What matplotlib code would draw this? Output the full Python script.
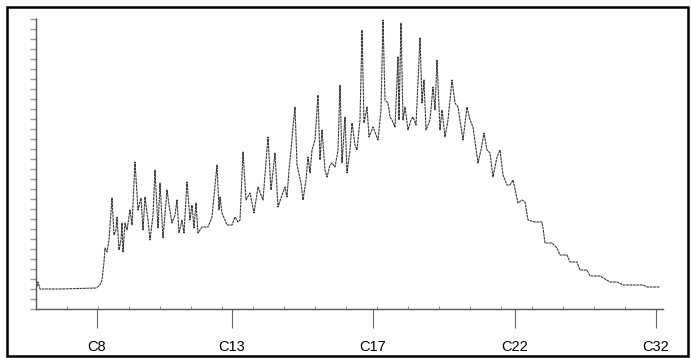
"""Recreate the scanned GC chromatogram (n-alkane range C8 to C32)."""

import matplotlib.pyplot as plt
from matplotlib.patches import Rectangle
from matplotlib.ticker import MultipleLocator

plt.rcParams["font.family"] = ["Liberation Sans", "DejaVu Sans"]

# retention time (min) and detector response (arbitrary units)
time_min = [
    0.0, 0.2, 0.4, 2.4, 6.0, 6.4, 6.6, 6.8, 6.9, 7.1, 7.3, 7.6, 7.8, 8.0, 8.1,
    8.3, 8.5, 8.6, 8.7, 8.9, 9.1, 9.4, 9.6, 9.9, 10.2, 10.5, 10.7, 10.9, 11.2,
    11.4, 11.7, 11.9, 12.2, 12.4, 12.7, 13.1, 13.3, 13.6, 13.9, 14.1, 14.3,
    14.6, 14.8, 15.1, 15.4, 15.6, 15.8, 16.0, 16.2, 16.6, 17.2, 17.6, 18.1,
    18.3, 18.4, 18.6, 19.1, 19.6, 19.9, 20.2, 20.4, 20.7, 21.0, 21.4, 21.8,
    22.2, 22.7, 23.2, 23.5, 23.9, 24.2, 24.6, 24.9, 25.1, 25.3, 25.5, 25.7,
    25.9, 26.1, 26.5, 26.7, 27.0, 27.2, 27.4, 27.6, 27.9, 28.2, 28.4, 28.6,
    28.9, 29.1, 29.4, 29.6, 29.9, 30.2, 30.4, 30.6, 30.9, 31.1, 31.4, 31.6,
    31.9, 32.1, 32.4, 32.6, 32.8, 33.1, 33.3, 33.7, 34.2, 34.5, 34.7, 34.9,
    35.2, 35.4, 35.6, 35.9, 36.2, 36.3, 36.5, 36.7, 36.9, 37.2, 37.5, 37.7,
    38.0, 38.4, 38.6, 38.8, 39.0, 39.4, 39.7, 39.9, 40.1, 40.4, 40.6, 40.9,
    41.2, 41.6, 41.9, 42.2, 42.7, 43.1, 43.4, 43.7, 44.2, 44.5, 44.8, 45.1,
    45.4, 45.7, 46.1, 46.4, 46.7, 47.1, 47.4, 47.7, 48.2, 48.6, 48.9, 49.2,
    49.9, 50.6, 50.7, 50.9, 51.6, 52.1, 52.4, 53.1, 53.4, 54.1, 54.4, 55.1,
    55.4, 56.4, 57.4, 58.1, 58.7, 60.7, 61.1, 62.4,
]
response = [
    19, 27, 20, 20, 21, 24, 29, 47, 61, 57, 69, 111, 74, 79, 92,
    59, 69, 86, 57, 86, 79, 99, 84, 147, 99, 111, 79, 112, 89,
    69, 94, 139, 81, 126, 71, 119, 104, 86, 94, 109, 76,
    89, 76, 127, 89, 104, 81, 106, 76, 82, 82, 92, 144,
    99, 112, 96, 84, 84, 92, 87, 89, 157, 109, 116, 96,
    122, 109, 172, 119, 156, 102, 114, 122, 112, 139, 159, 182,
    202, 144, 126, 109, 129, 152, 136, 159, 169, 214, 149, 179,
    139, 132, 144, 146, 142, 159, 224, 146, 192, 136, 159, 186,
    164, 159, 189, 279, 186, 202, 172, 182, 169, 199, 289, 209,
    206, 192, 189, 182, 252, 189, 286, 189, 202, 179, 189, 192,
    184, 271, 206, 229, 179, 189, 222, 199, 249, 179, 199, 172,
    189, 229, 206, 202, 169, 202, 189, 182, 146, 159, 176, 159,
    156, 132, 152, 159, 134, 124, 124, 129, 106, 109, 107, 89,
    87, 87, 81, 66, 66, 61, 54, 54, 47, 47, 39, 39,
    33, 33, 27, 27, 24, 24, 22, 22,
]

tick_pos = [6.1, 19.6, 33.7, 47.9, 62.0]
tick_labels = ["C8", "C13", "C17", "C22", "C32"]

fig = plt.figure(figsize=(6.91, 3.58), dpi=100)
ax = fig.add_axes([36 / 691, 1 - 309 / 358, 627 / 691, 291 / 358])

ax.plot(time_min, response, color="#3a3a3a", linewidth=0.8,
        linestyle=(0, (2.5, 0.6)))

ax.set_xlim(0, 62.7)
ax.set_ylim(0, 291)

for side in ("top", "right"):
    ax.spines[side].set_visible(False)
for side in ("left", "bottom"):
    ax.spines[side].set_color("#555555")
    ax.spines[side].set_linestyle((0, (2, 1)))
    ax.spines[side].set_linewidth(1.0)

ax.set_xticks(tick_pos)
ax.set_xticklabels(tick_labels, fontsize=10.5)
ax.tick_params(axis="x", which="major", length=14, width=0.8,
               color="#666666", pad=8)
ax.xaxis.set_minor_locator(MultipleLocator(3.1))
ax.tick_params(axis="x", which="minor", direction="in", length=2,
               width=0.6, color="#777777")

ax.yaxis.set_major_locator(MultipleLocator(10))
ax.tick_params(axis="y", which="major", length=4, width=1.0,
               color="#999999", labelleft=False)

# scanned page frame around the whole chart
fig.patches.append(Rectangle((7 / 691, 2 / 358), 681 / 691, 349 / 358,
                             transform=fig.transFigure, fill=False,
                             edgecolor="black", linewidth=1.8))

fig.savefig("out.png", dpi=100)
